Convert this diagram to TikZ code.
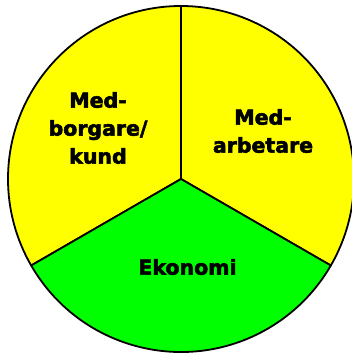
\documentclass[tikz,border=0pt]{standalone}
\usepackage{fontspec}
\setmainfont[BoldFeatures={FakeBold=2.5}]{DejaVu Sans}
\definecolor{Sector_Yellow}{RGB}{255,255,0}
\definecolor{Sector_Green}{RGB}{0,255,0}
\begin{document}
\begin{tikzpicture}[x=1pt,y=1pt,
    sector/.style={draw=black, line width=1.8pt, line join=round},
    sectortext/.style={font=\bfseries\fontsize{20.5}{28}\selectfont, align=center}]
    %% Background
    \useasboundingbox (0,0) rectangle (352,353);

    %% Sectors
    \coordinate (O) at (181,174);
    \def\rad{173}
    \filldraw[sector, fill=Sector_Yellow] (O) -- ++(90:\rad) arc (90:210:\rad) -- cycle;
    \filldraw[sector, fill=Sector_Yellow] (O) -- ++(-30:\rad) arc (-30:90:\rad) -- cycle;
    \filldraw[sector, fill=Sector_Green] (O) -- ++(210:\rad) arc (210:330:\rad) -- cycle;

    %% Labels
    \node[sectortext] (medborgare) at (98,225) {Med-\\borgare/\\kund};
    \node[sectortext] (medarbetare) at (263,222) {Med-\\arbetare};
    \node[sectortext] (ekonomi) at (187.5,86) {Ekonomi};
\end{tikzpicture}
\end{document}
